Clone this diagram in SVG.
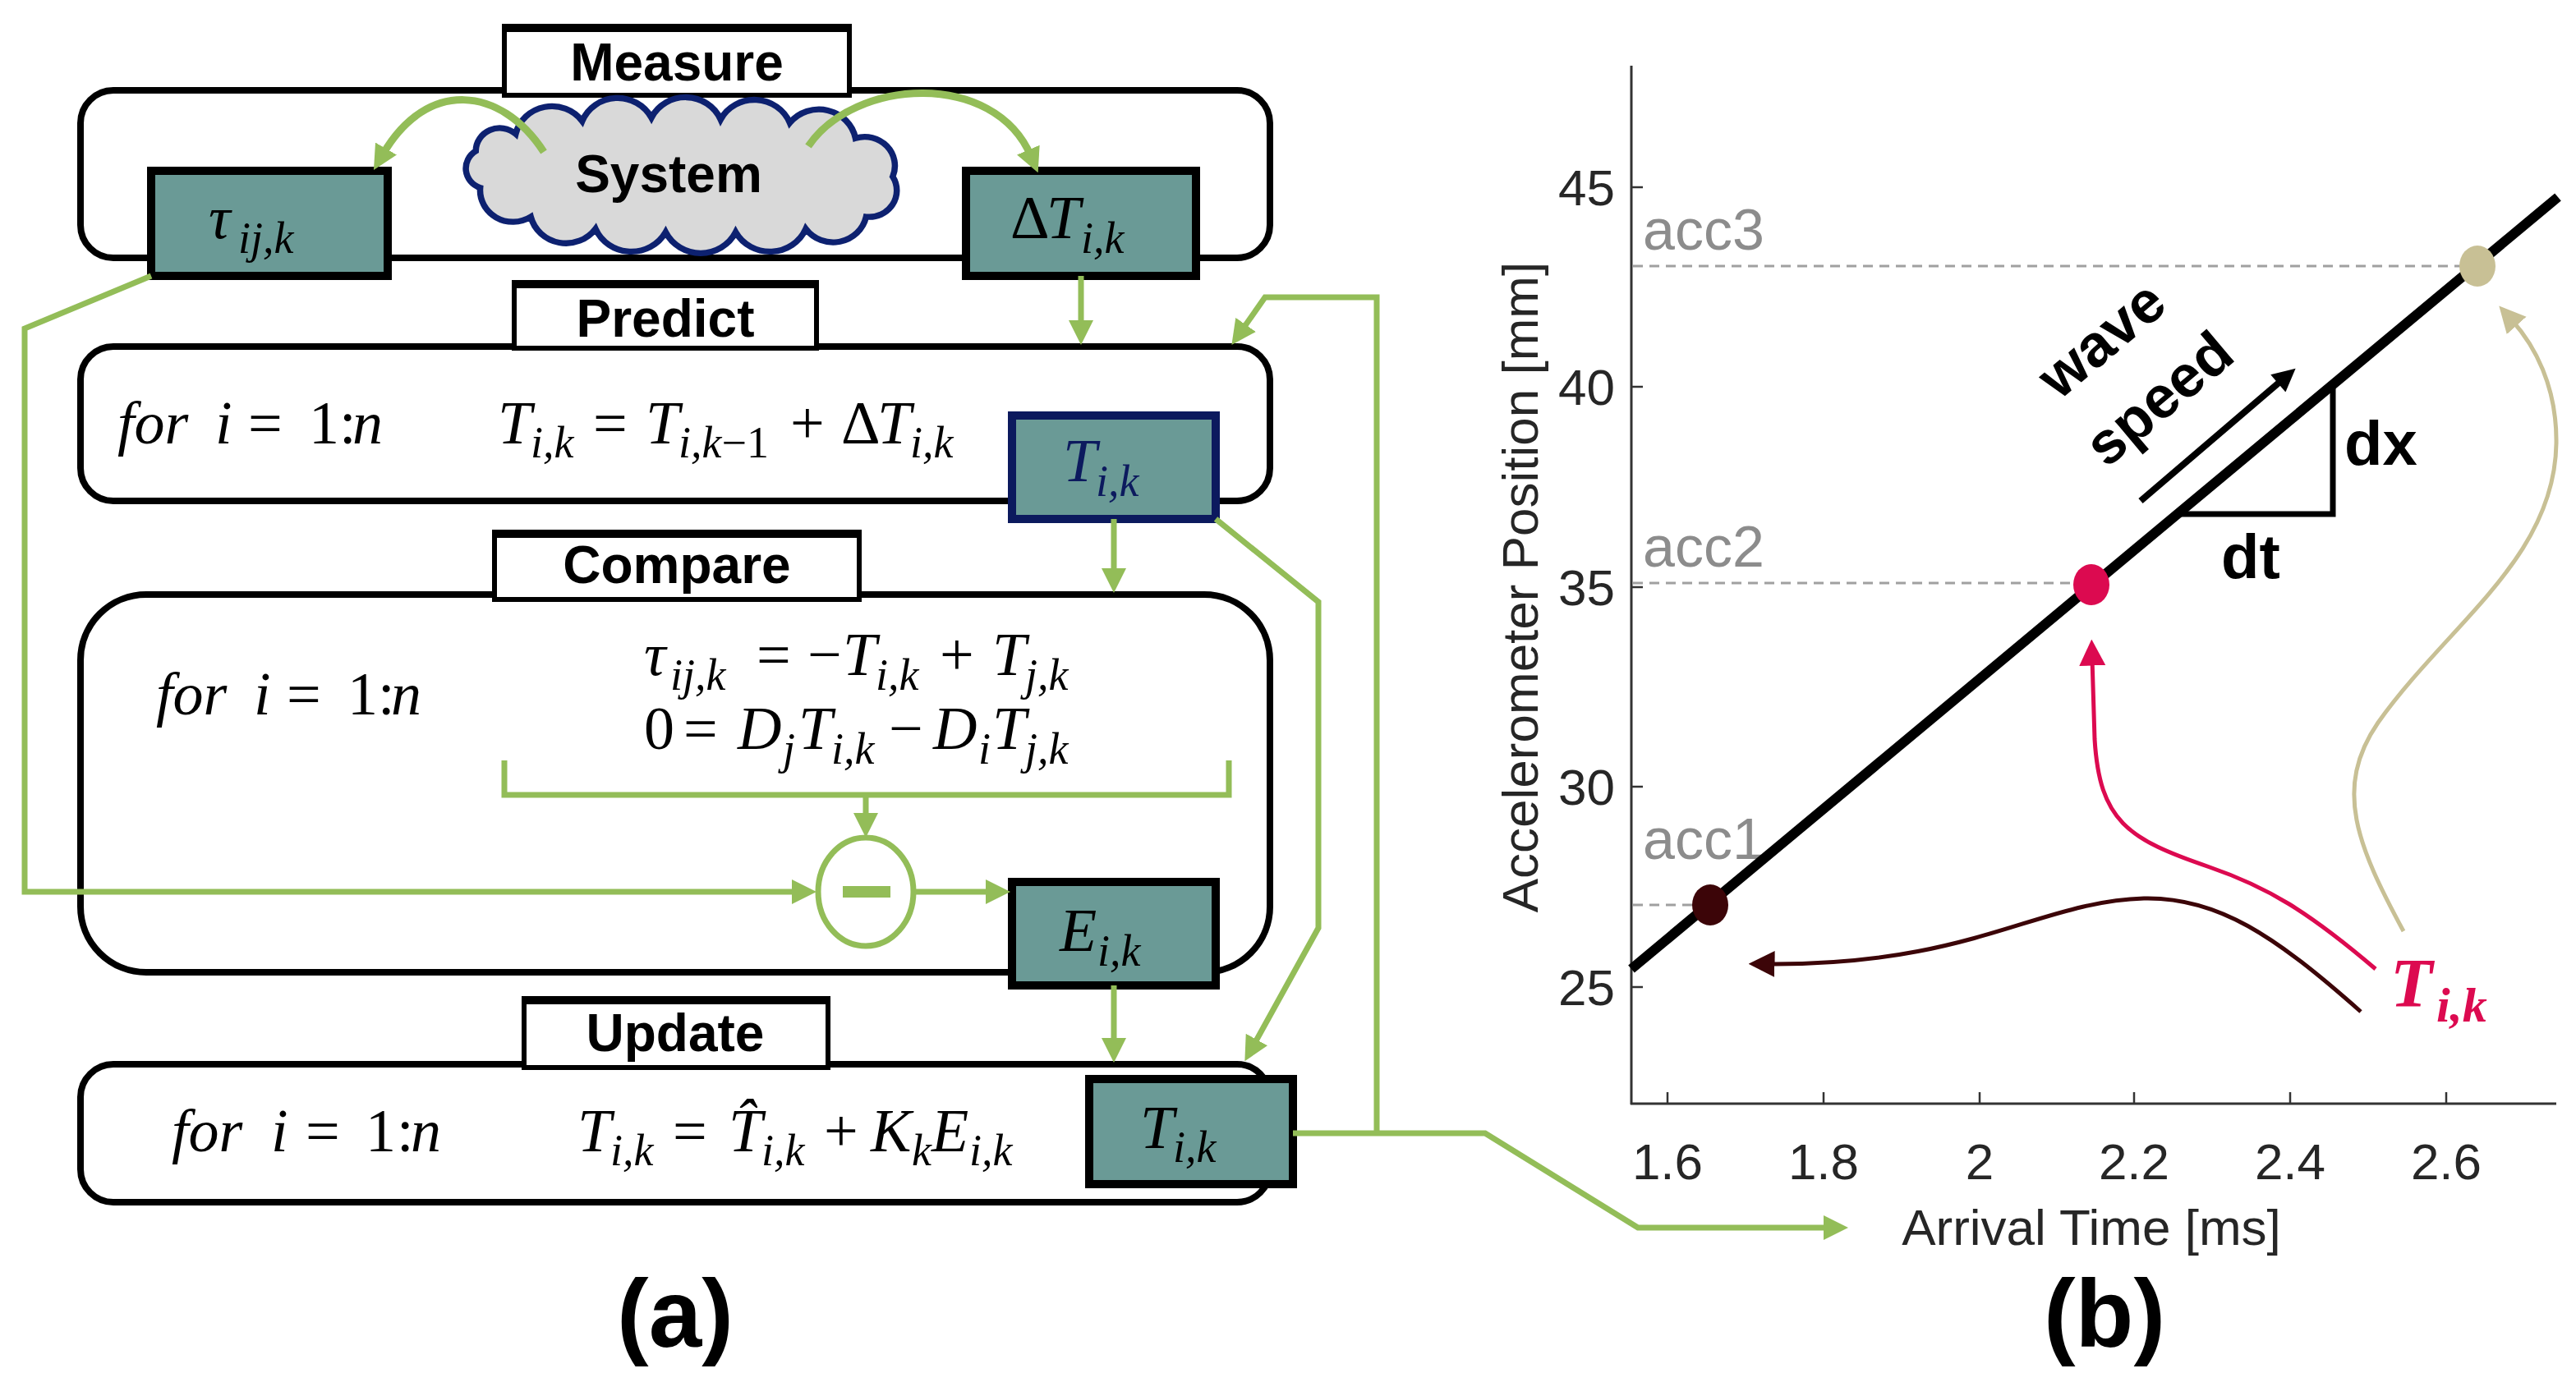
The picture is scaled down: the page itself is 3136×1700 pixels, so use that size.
<svg xmlns="http://www.w3.org/2000/svg" width="3136" height="1700" viewBox="0 0 3136 1700">
<style>
.panel{fill:#fff;stroke:#000;stroke-width:8}
.lbl{fill:#fff;stroke:#000;stroke-width:6}
.ttl{font-family:"Liberation Sans",Arial,sans-serif;font-weight:bold;font-size:64px;text-anchor:middle;fill:#000}
.box{fill:#6a9a96;stroke:#000;stroke-width:10}
.m{font-family:"Liberation Serif","DejaVu Serif",serif;font-style:italic;font-size:74px;fill:#000}
.u{font-style:normal}
.s{font-size:54px}
.g{fill:none;stroke:#93bd58;stroke-width:7}
.gc{fill:none;stroke:#93bd58;stroke-width:9}
.ax{font-family:"Liberation Sans",Arial,sans-serif;font-size:62px;fill:#262626}
.acc{font-family:"Liberation Sans",Arial,sans-serif;font-size:70px;fill:#8c8c8c}
.bd{font-family:"Liberation Sans",Arial,sans-serif;font-weight:bold;fill:#000}
.tick{stroke:#333;stroke-width:2.5}
.dash{stroke:#a0a0a0;stroke-width:3;stroke-dasharray:12 8}
</style>
<defs>
<marker id="ag" viewBox="0 0 30 30" refX="8" refY="15" markerWidth="30" markerHeight="30" markerUnits="userSpaceOnUse" orient="auto"><path d="M0,0 L30,15 L0,30 z" fill="#93bd58"/></marker>
<marker id="ak" viewBox="0 0 30 30" refX="8" refY="15" markerWidth="30" markerHeight="28" markerUnits="userSpaceOnUse" orient="auto"><path d="M0,0 L30,15 L0,30 z" fill="#000"/></marker>
<marker id="am" viewBox="0 0 30 30" refX="8" refY="15" markerWidth="32" markerHeight="34" markerUnits="userSpaceOnUse" orient="auto"><path d="M0,0 L30,15 L0,30 z" fill="#3c0508"/></marker>
<marker id="ar" viewBox="0 0 30 30" refX="8" refY="15" markerWidth="32" markerHeight="34" markerUnits="userSpaceOnUse" orient="auto"><path d="M0,0 L30,15 L0,30 z" fill="#dc0a50"/></marker>
<marker id="at" viewBox="0 0 30 30" refX="8" refY="15" markerWidth="32" markerHeight="34" markerUnits="userSpaceOnUse" orient="auto"><path d="M0,0 L30,15 L0,30 z" fill="#c8c095"/></marker>
</defs>
<rect width="3136" height="1700" fill="#fff"/>

<!-- Measure -->
<g id="measure">
<rect class="panel" x="98" y="110" width="1448" height="204" rx="40"/>
<rect class="lbl" x="614" y="32" width="420" height="84"/>
<line x1="611" y1="34" x2="1037" y2="34" stroke="#000" stroke-width="10"/>
<text class="ttl" x="824" y="98">Measure</text>
</g>
<g id="system">
<path transform="translate(833,212) scale(1.08,1.04) translate(-835,-212)" d="M645,165 A42,42 0 0 1 720,150 A43,43 0 0 1 798,146 A43,43 0 0 1 876,148 A43,43 0 0 1 954,152 A42,42 0 0 1 1028,170 A34,34 0 0 1 1070,215 A31,31 0 0 1 1040,262 A38,38 0 0 1 972,276 A44,44 0 0 1 893,280 A44,44 0 0 1 814,280 A44,44 0 0 1 735,276 A41,41 0 0 1 662,262 A37,37 0 0 1 605,228 A24,24 0 0 1 600,185 A27,27 0 0 1 645,165 Z" fill="#d9d9d9" stroke="#0d2170" stroke-width="7"/>
<text class="ttl" x="814" y="234" font-size="66">System</text>
</g>
<g id="tau-box">
<rect class="box" x="184" y="208" width="288" height="128"/>
<text class="m"><tspan x="254" y="290">τ</tspan><tspan class="s" x="290" y="308">ij,k</tspan></text>
</g>
<g id="dT-box">
<rect class="box" x="1176" y="208" width="280" height="128"/>
<text class="m"><tspan class="u" x="1230" y="290">Δ</tspan><tspan x="1274" y="290">T</tspan><tspan class="s" x="1316" y="308">i,k</tspan></text>
</g>

<!-- Predict -->
<g id="predict">
<rect class="panel" x="98" y="422" width="1448" height="188" rx="40"/>
<rect class="lbl" x="626" y="344" width="368" height="80"/>
<line x1="623" y1="346" x2="997" y2="346" stroke="#000" stroke-width="10"/>
<text class="ttl" x="810" y="410">Predict</text>
<text class="m"><tspan x="143" y="540">for</tspan><tspan x="262" y="540">i</tspan><tspan class="u" x="302" y="540">=</tspan><tspan class="u" x="376" y="540">1</tspan><tspan class="u" x="413" y="540">:</tspan><tspan x="429" y="540">n</tspan></text>
<text class="m"><tspan x="606" y="540">T</tspan><tspan class="s" x="646" y="557">i,k</tspan><tspan class="u" x="722" y="540">=</tspan><tspan x="786" y="540">T</tspan><tspan class="s" x="826" y="557">i,k</tspan><tspan class="s u">−1</tspan><tspan class="u" x="962" y="540">+</tspan><tspan class="u" x="1024" y="540">Δ</tspan><tspan x="1068" y="540">T</tspan><tspan class="s" x="1108" y="557">i,k</tspan></text>
</g>
<g id="T-predict-box">
<rect x="1232" y="506" width="248" height="126" fill="#6a9a96" stroke="#0c1a5e" stroke-width="10"/>
<text class="m" style="fill:#0c1a5e"><tspan x="1294" y="586">T</tspan><tspan class="s" x="1334" y="604">i,k</tspan></text>
</g>

<!-- Compare -->
<g id="compare">
<rect class="panel" x="98" y="724" width="1448" height="460" rx="80"/>
<rect class="lbl" x="602" y="648" width="444" height="82"/>
<line x1="599" y1="650" x2="1049" y2="650" stroke="#000" stroke-width="10"/>
<text class="ttl" x="824" y="710">Compare</text>
<text class="m"><tspan x="190" y="870">for</tspan><tspan x="309" y="870">i</tspan><tspan class="u" x="349" y="870">=</tspan><tspan class="u" x="423" y="870">1</tspan><tspan class="u" x="460" y="870">:</tspan><tspan x="476" y="870">n</tspan></text>
<text class="m"><tspan x="784" y="822">τ</tspan><tspan class="s" x="816" y="840">ij,k</tspan><tspan class="u" x="921" y="822">=</tspan><tspan class="u" x="983" y="822">−</tspan><tspan x="1026" y="822">T</tspan><tspan class="s" x="1066" y="840">i,k</tspan><tspan class="u" x="1144" y="822">+</tspan><tspan x="1208" y="822">T</tspan><tspan class="s" x="1248" y="840">j,k</tspan></text>
<text class="m"><tspan class="u" x="784" y="912">0</tspan><tspan class="u" x="832" y="912">=</tspan><tspan x="898" y="912">D</tspan><tspan class="s" x="953" y="930">j</tspan><tspan x="972" y="912">T</tspan><tspan class="s" x="1012" y="930">i,k</tspan><tspan class="u" x="1082" y="912">−</tspan><tspan x="1136" y="912">D</tspan><tspan class="s" x="1191" y="930">i</tspan><tspan x="1208" y="912">T</tspan><tspan class="s" x="1248" y="930">j,k</tspan></text>
</g>
<g id="minus">
<ellipse cx="1054" cy="1086" rx="58" ry="66" fill="#fff" stroke="#93bd58" stroke-width="7"/>
<line x1="1026" y1="1086" x2="1084" y2="1086" stroke="#93bd58" stroke-width="14"/>
</g>
<g id="E-box">
<rect class="box" x="1232" y="1074" width="248" height="126"/>
<text class="m"><tspan x="1290" y="1158">E</tspan><tspan class="s" x="1336" y="1176">i,k</tspan></text>
</g>

<!-- Update -->
<g id="update">
<rect class="panel" x="98" y="1296" width="1448" height="168" rx="40"/>
<rect class="lbl" x="638" y="1216" width="370" height="84"/>
<line x1="635" y1="1218" x2="1011" y2="1218" stroke="#000" stroke-width="10"/>
<text class="ttl" x="822" y="1280">Update</text>
<text class="m"><tspan x="209" y="1402">for</tspan><tspan x="330" y="1402">i</tspan><tspan class="u" x="372" y="1402">=</tspan><tspan class="u" x="445" y="1402">1</tspan><tspan class="u" x="483" y="1402">:</tspan><tspan x="500" y="1402">n</tspan></text>
<text class="m"><tspan x="703" y="1402">T</tspan><tspan class="s" x="743" y="1419">i,k</tspan><tspan class="u" x="819" y="1402">=</tspan><tspan x="887" y="1402">T̂</tspan><tspan class="s" x="927" y="1419">i,k</tspan><tspan class="u" x="1003" y="1402">+</tspan><tspan x="1060" y="1402">K</tspan><tspan class="s" x="1110" y="1419">k</tspan><tspan x="1134" y="1402">E</tspan><tspan class="s" x="1180" y="1419">i,k</tspan></text>
</g>
<g id="T-update-box">
<rect class="box" x="1326" y="1314" width="248" height="128"/>
<text class="m"><tspan x="1388" y="1398">T</tspan><tspan class="s" x="1428" y="1415">i,k</tspan></text>
</g>

<!-- connectors -->
<g id="connectors">
<path class="gc" d="M662,185 C610,105 520,95 466,188" marker-end="url(#ag)"/>
<path class="gc" d="M984,178 C1040,95 1210,85 1255,190" marker-end="url(#ag)"/>
<path class="g" d="M1316,336 V398" marker-end="url(#ag)"/>
<path class="g" d="M184,336 L30,400 V1086 H972" marker-end="url(#ag)"/>
<path class="g" d="M614,926 V968 H1496 V926"/>
<path class="g" d="M1054,968 V998" marker-end="url(#ag)"/>
<path class="g" d="M1112,1086 H1208" marker-end="url(#ag)"/>
<path class="g" d="M1356,632 V700" marker-end="url(#ag)"/>
<path class="g" d="M1356,1200 V1272" marker-end="url(#ag)"/>
<path class="g" d="M1480,632 L1605,733 V1130 L1526,1273" marker-end="url(#ag)"/>
<path class="g" d="M1676,1380 V362 H1540 L1512,402" marker-end="url(#ag)"/>
<path class="g" d="M1574,1380 H1808 L1994,1495 H2228" marker-end="url(#ag)"/>
</g>
<text class="bd" x="822" y="1640" font-size="116" text-anchor="middle">(a)</text>

<!-- plot (b) -->
<g id="plot">
<line x1="1986" y1="80" x2="1986" y2="1345" stroke="#333" stroke-width="3"/>
<line x1="1985" y1="1344" x2="3112" y2="1344" stroke="#333" stroke-width="3"/>
<line class="tick" x1="1986" y1="228" x2="2000" y2="228"/>
<line class="tick" x1="1986" y1="471" x2="2000" y2="471"/>
<line class="tick" x1="1986" y1="715" x2="2000" y2="715"/>
<line class="tick" x1="1986" y1="958" x2="2000" y2="958"/>
<line class="tick" x1="1986" y1="1202" x2="2000" y2="1202"/>
<text class="ax" text-anchor="end" x="1966" y="250">45</text>
<text class="ax" text-anchor="end" x="1966" y="493">40</text>
<text class="ax" text-anchor="end" x="1966" y="737">35</text>
<text class="ax" text-anchor="end" x="1966" y="980">30</text>
<text class="ax" text-anchor="end" x="1966" y="1224">25</text>
<line class="tick" x1="2030" y1="1344" x2="2030" y2="1330"/>
<line class="tick" x1="2220" y1="1344" x2="2220" y2="1330"/>
<line class="tick" x1="2410" y1="1344" x2="2410" y2="1330"/>
<line class="tick" x1="2598" y1="1344" x2="2598" y2="1330"/>
<line class="tick" x1="2788" y1="1344" x2="2788" y2="1330"/>
<line class="tick" x1="2978" y1="1344" x2="2978" y2="1330"/>
<text class="ax" text-anchor="middle" x="2030" y="1436">1.6</text>
<text class="ax" text-anchor="middle" x="2220" y="1436">1.8</text>
<text class="ax" text-anchor="middle" x="2410" y="1436">2</text>
<text class="ax" text-anchor="middle" x="2598" y="1436">2.2</text>
<text class="ax" text-anchor="middle" x="2788" y="1436">2.4</text>
<text class="ax" text-anchor="middle" x="2978" y="1436">2.6</text>
<text class="ax" text-anchor="middle" x="2546" y="1516" font-size="69">Arrival Time [ms]</text>
<text class="ax" text-anchor="middle" font-size="69" transform="translate(1872,715) rotate(-90)">Accelerometer Position [mm]</text>
<line class="dash" x1="1988" y1="324" x2="2995" y2="324"/>
<line class="dash" x1="1988" y1="710" x2="2530" y2="710"/>
<line class="dash" x1="1988" y1="1102" x2="2070" y2="1102"/>
<text class="acc" x="2000" y="304">acc3</text>
<text class="acc" x="2000" y="690">acc2</text>
<text class="acc" x="2000" y="1046">acc1</text>
<line x1="1986" y1="1180" x2="3114" y2="240" stroke="#000" stroke-width="12"/>
<polyline points="2840,467 2840,626 2650,626" fill="none" stroke="#000" stroke-width="7"/>
<text class="bd" x="2854" y="566" font-size="76">dx</text>
<text class="bd" x="2704" y="704" font-size="76">dt</text>
<line x1="2606" y1="610" x2="2779" y2="462" stroke="#000" stroke-width="8" marker-end="url(#ak)"/>
<text class="bd" font-size="72" text-anchor="middle" transform="translate(2574,432) rotate(-40)">wave</text>
<text class="bd" font-size="72" text-anchor="middle" transform="translate(2644,504) rotate(-40)">speed</text>
<ellipse cx="2082" cy="1102" rx="22" ry="25" fill="#3c0508"/>
<ellipse cx="2546" cy="712" rx="22" ry="25" fill="#dc0a50"/>
<ellipse cx="3016" cy="324" rx="22" ry="25" fill="#c8c095"/>
<path d="M2874,1232 C2770,1140 2700,1092 2610,1094 C2480,1098 2400,1176 2152,1174" fill="none" stroke="#3c0508" stroke-width="5" marker-end="url(#am)"/>
<path d="M2892,1180 C2810,1110 2760,1080 2690,1056 C2590,1022 2556,1000 2550,900 L2547,802" fill="none" stroke="#dc0a50" stroke-width="5" marker-end="url(#ar)"/>
<path d="M2926,1134 C2870,1030 2840,960 2895,880 C2980,760 3110,680 3112,540 C3113,470 3085,420 3058,390" fill="none" stroke="#c8c095" stroke-width="5" marker-end="url(#at)"/>
<text font-family="Liberation Serif, DejaVu Serif, serif" font-style="italic" font-weight="bold" fill="#dc0a50"><tspan x="2910" y="1226" font-size="84">T</tspan><tspan x="2966" y="1244" font-size="60">i,k</tspan></text>
</g>
<text class="bd" x="2562" y="1640" font-size="116" text-anchor="middle">(b)</text>
</svg>
